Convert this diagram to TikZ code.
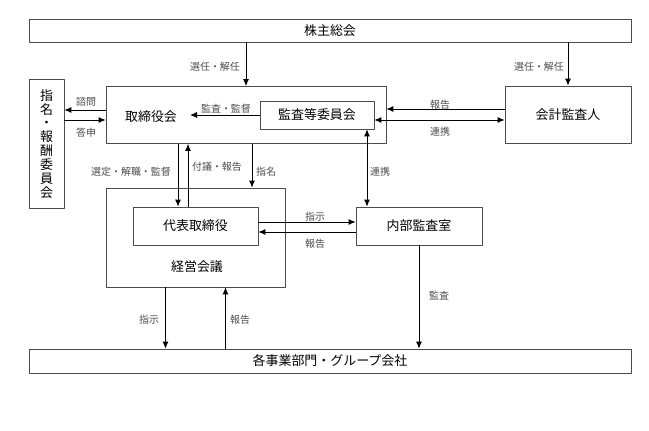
\documentclass[tikz,border=0pt]{standalone}
\usepackage{fontspec}
\usetikzlibrary{arrows.meta}
\newfontfamily\jp{Noto Sans CJK JP}
\begin{document}
\begin{tikzpicture}[>={Latex[length=7bp,width=6bp]},line join=bevel,
  box/.style={draw=black!70,rectangle,line width=0.7pt,inner sep=0pt},
  txt/.style={font=\jp\fontsize{13}{14}\selectfont},
  lbl/.style={font=\jp\fontsize{10}{12}\selectfont,text=black!70,inner sep=1pt},
  conn/.style={line width=0.9pt}]
\useasboundingbox (0bp,0bp) rectangle (649bp,431bp);
%%
\node (soukai) at (330bp,400.5bp) [box,txt,minimum width=602bp,minimum height=23bp] {株主総会};
  \node (board) at (246bp,316bp) [box,minimum width=280bp,minimum height=57bp] {};
  \node (board_t) at (151bp,314bp) [txt] {取締役会};
  \node (nomin) at (46.5bp,287bp) [box,minimum width=35bp,minimum height=129bp] {};
  \node (nomin_t) at (46.5bp,287bp) [txt,align=center] {指\\名\\・\\報\\酬\\委\\員\\会};
  \node (audit) at (317bp,316bp) [box,txt,minimum width=114bp,minimum height=28bp] {監査等委員会};
  \node (auditor) at (568bp,316.5bp) [box,txt,minimum width=126bp,minimum height=57bp] {会計監査人};
  \node (exec) at (195.5bp,193.5bp) [box,minimum width=179bp,minimum height=99bp] {};
  \node (exec_t) at (197bp,164bp) [txt] {経営会議};
  \node (rep) at (195.5bp,205bp) [box,txt,minimum width=125bp,minimum height=38bp] {代表取締役};
  \node (intaudit) at (419bp,205bp) [box,txt,minimum width=126bp,minimum height=38bp] {内部監査室};
  \node (bottom) at (330bp,70bp) [box,txt,minimum width=602bp,minimum height=24bp] {各事業部門・グループ会社};
  \coordinate (kansa_end) at (190bp,316bp);
  % labels
  \node (l_sennin1) at (215bp,364bp) [lbl] {選任・解任};
  \node (l_sennin2) at (539bp,364bp) [lbl] {選任・解任};
  \node (l_shimon) at (86bp,329bp) [lbl] {諮問};
  \node (l_toushin) at (86bp,298bp) [lbl] {答申};
  \node (l_kansa1) at (226bp,322bp) [lbl] {監査・監督};
  \node (l_houkoku1) at (440bp,326bp) [lbl] {報告};
  \node (l_renkei1) at (440bp,299bp) [lbl] {連携};
  \node (l_renkei2) at (380bp,259bp) [lbl] {連携};
  \node (l_sentei) at (131bp,259bp) [lbl] {選定・解職・監督};
  \node (l_fugi) at (217bp,264bp) [lbl] {付議・報告};
  \node (l_shimei) at (266bp,259bp) [lbl] {指名};
  \node (l_shiji1) at (315bp,214bp) [lbl] {指示};
  \node (l_houkoku2) at (315bp,187bp) [lbl] {報告};
  \node (l_kansa2) at (439bp,135bp) [lbl] {監査};
  \node (l_shiji2) at (149bp,111bp) [lbl] {指示};
  \node (l_houkoku3) at (240bp,111bp) [lbl] {報告};
  % connectors
  \draw [conn,->] (board.north |- soukai.south) -- (board.north);
  \draw [conn,->] (auditor.north |- soukai.south) -- (auditor.north);
  \draw [conn,->] ([yshift=5bp]board.west) -- ([yshift=5bp]board.west -| nomin.east);
  \draw [conn,->] ([yshift=-5bp]nomin.east |- board.west) -- ([yshift=-5bp]board.west);
  \draw [conn,->] (audit.west) -- (kansa_end);
  \draw [conn,->] ([yshift=5.5bp]auditor.west) -- ([yshift=5.5bp]auditor.west -| board.east);
  \draw [conn,<->] ([yshift=-5bp]audit.east) -- ([yshift=-5bp]audit.east -| auditor.west);
  \draw [conn,<->] ([xshift=50bp]audit.south) -- ([xshift=50bp]audit.south |- intaudit.north);
  \draw [conn,->] ([xshift=-17.5bp]rep.north |- board.south) -- ([xshift=-17.5bp]rep.north);
  \draw [conn,->] ([xshift=-7.5bp]rep.north) -- ([xshift=-7.5bp]rep.north |- board.south);
  \draw [conn,->] ([xshift=6bp]board.south) -- ([xshift=6bp]board.south |- exec.north);
  \draw [conn,->] ([yshift=4bp]rep.east) -- ([yshift=4bp]rep.east -| intaudit.west);
  \draw [conn,->] ([yshift=-6bp]intaudit.west) -- ([yshift=-6bp]intaudit.west -| rep.east);
  \draw [conn,->] (intaudit.south) -- (intaudit.south |- bottom.north);
  \draw [conn,->] ([xshift=-30bp]exec.south) -- ([xshift=-30bp]exec.south |- bottom.north);
  \draw [conn,->] ([xshift=30bp]exec.south |- bottom.north) -- ([xshift=30bp]exec.south);
%
\end{tikzpicture}
\end{document}
